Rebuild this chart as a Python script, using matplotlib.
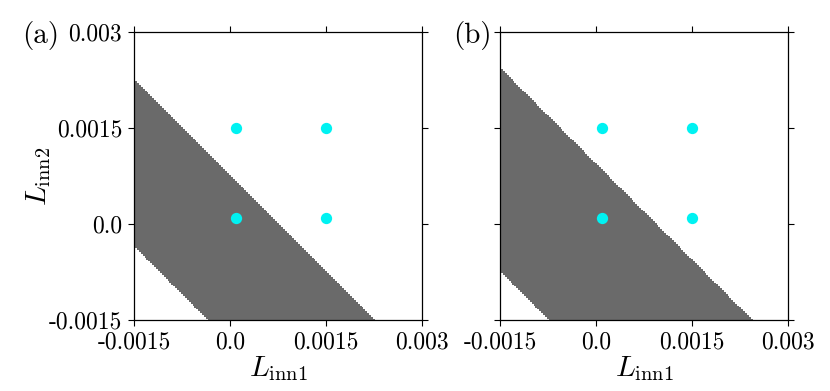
import numpy as np
import matplotlib
matplotlib.use("Agg")
import matplotlib.pyplot as plt

plt.rcParams['mathtext.fontset'] = 'cm'
plt.rcParams['font.family'] = ['cmr10', 'DejaVu Serif']
plt.rcParams['axes.unicode_minus'] = False

# axis range and ticks
x_ticks = [-0.0015, 0.0, 0.0015, 0.003]
y_ticks = [-0.0015, 0.0, 0.0015, 0.003]
tick_labels = ['-0.0015', '0.0', '0.0015', '0.003']

# feasible band: lower <= L1 + L2 <= upper, sampled on a grid
grid_step = 0.00003
band_a = (-0.00183, 0.00076)
band_b = (-0.00223, 0.00095)

# cyan points
pts_x = [0.0001, 0.0015, 0.0001, 0.0015]
pts_y = [0.0001, 0.0001, 0.0015, 0.0015]

panel_names = ['(a)', '(b)']

fig = plt.figure(figsize=(8.3, 3.91), dpi=100)
ax_a = fig.add_axes([134/830, 71/391, 288/830, 288/391])
ax_b = fig.add_axes([500/830, 71/391, 288/830, 288/391])

g = np.arange(-0.0015, 0.003 + 1e-9, grid_step)
GX, GY = np.meshgrid(g, g)
GX = GX.ravel(); GY = GY.ravel()

for ax, band, name in [(ax_a, band_a, panel_names[0]), (ax_b, band_b, panel_names[1])]:
    s = GX + GY
    m = (s >= band[0]) & (s <= band[1])
    ax.scatter(GX[m], GY[m], s=0.75, marker='s', c='#6a6a6a', linewidths=0, zorder=1)
    ax.scatter(pts_x, pts_y, s=66, c='#00f2f2', linewidths=0, zorder=3)
    ax.set_xlim(-0.0015, 0.003)
    ax.set_ylim(-0.0015, 0.003)
    ax.set_xticks(x_ticks)
    ax.set_yticks(y_ticks)
    ax.set_xticklabels(tick_labels)
    ax.tick_params(axis='both', which='both', direction='out', length=4.5, width=0.8,
                   top=True, right=True, labelsize=17, pad=4)
    for sp in ax.spines.values():
        sp.set_linewidth(0.9)
    ax.set_xlabel(r'$L_{\rm inn1}$', fontsize=21, labelpad=0)

ax_a.set_yticklabels(tick_labels)
ax_b.set_yticklabels([])
ax_a.set_ylabel(r'$L_{\rm inn2}$', fontsize=21, labelpad=-3)

fig.text(41/830, 1 - 36/391, panel_names[0], fontsize=21, ha='center', va='center')
fig.text(472/830, 1 - 36/391, panel_names[1], fontsize=21, ha='center', va='center')

fig.savefig('out.png', dpi=100)
